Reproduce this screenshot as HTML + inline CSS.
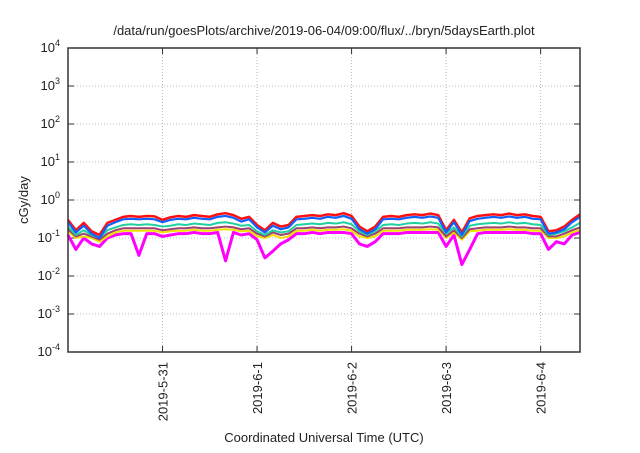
<!DOCTYPE html>
<html><head><meta charset="utf-8"><style>
body{margin:0;background:#fff;font-family:"Liberation Sans",sans-serif}
svg text{font-family:"Liberation Sans",sans-serif;fill:#222}
</style></head><body>
<svg id="c" width="640" height="448"></svg>
<script>
const hours=[0,2,4,6,8,10,12,14,16,18,20,22,24,26,28,30,32,34,36,38,40,42,44,46,48,50,52,54,56,58,60,62,64,66,68,70,72,74,76,78,80,82,84,86,88,90,92,94,96,98,100,102,104,106,108,110,112,114,116,118,120,122,124,126,128,130];
const red=[0.3,0.16,0.25,0.15,0.12,0.25,0.3,0.36,0.38,0.36,0.38,0.37,0.3,0.35,0.38,0.36,0.4,0.38,0.36,0.42,0.45,0.4,0.32,0.36,0.22,0.16,0.25,0.2,0.22,0.36,0.38,0.4,0.38,0.42,0.4,0.45,0.38,0.2,0.15,0.2,0.36,0.38,0.36,0.4,0.42,0.4,0.44,0.4,0.16,0.3,0.14,0.33,0.38,0.4,0.42,0.4,0.44,0.4,0.42,0.38,0.36,0.15,0.16,0.2,0.3,0.42];
const blue=[0.26,0.14,0.21,0.13,0.1,0.21,0.26,0.31,0.32,0.31,0.32,0.31,0.26,0.3,0.32,0.31,0.34,0.32,0.31,0.36,0.38,0.34,0.27,0.31,0.19,0.14,0.21,0.17,0.19,0.31,0.32,0.34,0.32,0.36,0.34,0.38,0.32,0.17,0.13,0.17,0.31,0.32,0.31,0.34,0.36,0.34,0.37,0.34,0.14,0.26,0.12,0.28,0.32,0.34,0.36,0.34,0.37,0.34,0.36,0.32,0.31,0.13,0.14,0.17,0.26,0.36];
const teal=[0.2,0.12,0.16,0.12,0.1,0.16,0.19,0.22,0.23,0.22,0.23,0.22,0.2,0.21,0.23,0.22,0.24,0.23,0.22,0.25,0.26,0.24,0.21,0.22,0.15,0.12,0.16,0.14,0.15,0.22,0.23,0.24,0.23,0.25,0.24,0.26,0.23,0.15,0.12,0.15,0.22,0.23,0.22,0.24,0.25,0.24,0.26,0.24,0.13,0.19,0.11,0.21,0.23,0.24,0.25,0.24,0.26,0.24,0.25,0.23,0.22,0.12,0.13,0.15,0.19,0.25];
const purple=[0.17,0.11,0.13,0.11,0.09,0.13,0.16,0.18,0.18,0.18,0.18,0.18,0.16,0.17,0.18,0.18,0.19,0.18,0.18,0.19,0.2,0.19,0.17,0.18,0.13,0.11,0.14,0.12,0.13,0.18,0.18,0.19,0.18,0.19,0.19,0.2,0.18,0.13,0.11,0.13,0.18,0.18,0.18,0.19,0.19,0.19,0.2,0.19,0.11,0.16,0.1,0.17,0.18,0.19,0.19,0.19,0.2,0.19,0.19,0.18,0.18,0.11,0.11,0.13,0.16,0.19];
const yellow=[0.15,0.1,0.11,0.1,0.08,0.11,0.14,0.155,0.155,0.155,0.155,0.155,0.14,0.15,0.155,0.155,0.165,0.155,0.155,0.165,0.17,0.165,0.15,0.155,0.11,0.1,0.12,0.1,0.11,0.155,0.155,0.165,0.155,0.165,0.165,0.17,0.155,0.11,0.1,0.11,0.155,0.155,0.155,0.165,0.165,0.165,0.17,0.165,0.1,0.14,0.09,0.15,0.155,0.165,0.165,0.165,0.17,0.165,0.165,0.155,0.155,0.1,0.1,0.11,0.14,0.165];
const magenta=[0.12,0.05,0.1,0.07,0.06,0.1,0.12,0.13,0.13,0.035,0.13,0.13,0.11,0.12,0.13,0.13,0.14,0.13,0.13,0.14,0.025,0.14,0.12,0.13,0.09,0.03,0.045,0.07,0.09,0.13,0.13,0.14,0.13,0.14,0.14,0.14,0.13,0.07,0.06,0.08,0.13,0.13,0.13,0.14,0.14,0.14,0.14,0.14,0.06,0.12,0.02,0.05,0.13,0.14,0.14,0.14,0.14,0.14,0.14,0.13,0.13,0.05,0.08,0.07,0.12,0.14];
const yTicks=[-4,-3,-2,-1,0,1,2,3,4];
const dateLabels=["2019-5-31","2019-6-1","2019-6-2","2019-6-3","2019-6-4"];
const dateHours=[24,48,72,96,120];
const L=68,R=580,T=48,B=352,HMAX=130;
const ns="http://www.w3.org/2000/svg",svg=document.getElementById('c');
const xs=h=>L+(R-L)*h/HMAX;
const ys=v=>T+(4-Math.log10(v))*(B-T)/8;
function mk(t,a,p){const e=document.createElementNS(ns,t);for(const k in a)e.setAttribute(k,a[k]);(p||svg).appendChild(e);return e;}
yTicks.forEach(p=>{const y=ys(Math.pow(10,p));
 const g=mk('line',{x1:L,x2:R,y1:y,y2:y,stroke:'#bbb','stroke-dasharray':'1,2','stroke-width':1});
 
 
 mk('line',{x1:L,x2:L+6,y1:y,y2:y,stroke:'#333'});mk('line',{x1:R-6,x2:R,y1:y,y2:y,stroke:'#333'});
 const t=mk('text',{x:L-8,y:y+4,'text-anchor':'end','font-size':13});
 
 
 t.textContent='10';const s=mk('tspan',{dy:-6,'font-size':9},t);s.textContent=p;});
dateHours.forEach((h,i)=>{const x=xs(h);
 const g=mk('line',{x1:x,x2:x,y1:T,y2:B,stroke:'#bbb','stroke-dasharray':'1,2'});
 
 
 mk('line',{x1:x,x2:x,y1:B-6,y2:B,stroke:'#333'});mk('line',{x1:x,x2:x,y1:T,y2:T+6,stroke:'#333'});
 const t=mk('text',{transform:`translate(${x+5},${B+10}) rotate(-90)`,'text-anchor':'end','font-size':13});
 
 
 t.textContent=dateLabels[i];});
const series=[[magenta,'#ff00ff',3,'magenta'],[yellow,'#f0e000',2,'yellow'],[purple,'#a04070',2,'purple'],[teal,'#20d0a0',2,'teal'],[red,'#ff1010',2.5,'red'],[blue,'#1060ff',2.2,'blue']];
series.forEach(([d,c,w,n])=>{
 const pts=[];d.forEach((v,i)=>{if(i<hours.length)pts.push(xs(hours[i])+','+ys(v));});
 const pl=mk('polyline',{points:pts.join(' '),fill:'none',stroke:c,'stroke-width':w,'stroke-linejoin':'round'});
 
 });
const fr=mk('rect',{x:L,y:T,width:R-L,height:B-T,fill:'none',stroke:'#333','stroke-width':1.5});


const ti=mk('text',{x:324,y:35,'text-anchor':'middle','font-size':13});


ti.textContent='/data/run/goesPlots/archive/2019-06-04/09:00/flux/../bryn/5daysEarth.plot';
const yl=mk('text',{transform:'translate(28,200) rotate(-90)','text-anchor':'middle','font-size':13});


yl.textContent='cGy/day';
const xl=mk('text',{x:324,y:442,'text-anchor':'middle','font-size':13});


xl.textContent='Coordinated Universal Time (UTC)';
</script>
</body></html>
